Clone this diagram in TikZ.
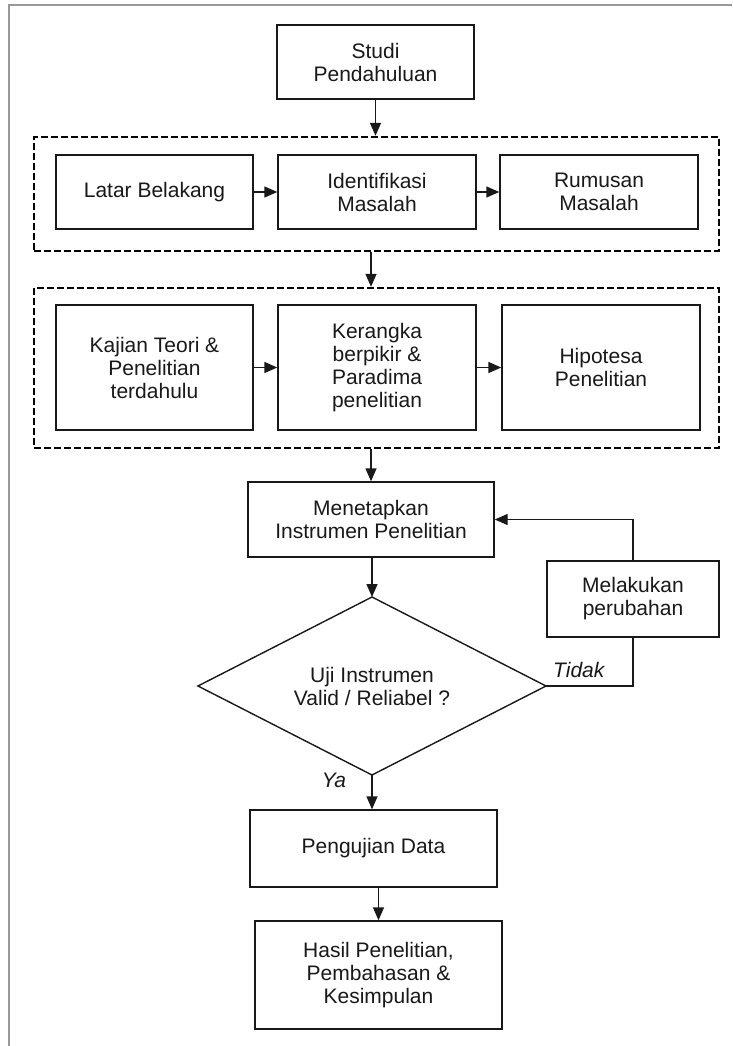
\documentclass[tikz,border=0pt]{standalone}
\usepackage{fontspec}
\setmainfont{Liberation Sans}
\usetikzlibrary{arrows.meta}
\begin{document}
\begin{tikzpicture}[x=1pt,y=-1pt,
  box/.style={draw=black!90, line width=1.4pt, align=center, inner sep=0pt,
    font=\fontsize{21}{23}\selectfont, text=black!90},
  group/.style={draw=black, line width=2.4pt, dash pattern=on 7pt off 3pt, inner sep=0pt},
  arr/.style={draw=black!90, line width=1.4pt, -{Triangle[length=13pt,width=11pt]}},
  conn/.style={draw=black!90, line width=1.4pt},
  lbl/.style={font=\fontsize{21}{23}\selectfont\itshape, text=black!90, inner sep=0pt}]
\useasboundingbox (0,0) rectangle (732,1046);
\fill[white] (0,0) rectangle (732,1046);
\draw[gray!80, line width=1.6pt] (9,1046) -- (9,5) -- (732,5);

\node[box, minimum width=197pt, minimum height=74pt] (studi) at (375.5,62) {Studi\\Pendahuluan};

\node[group, minimum width=685pt, minimum height=114pt] (g1) at (376.5,194) {};
\node[box, minimum width=197pt, minimum height=74pt] (latar) at (154.5,192) {Latar Belakang};
\node[box, minimum width=198pt, minimum height=74pt] (ident) at (377,192) {Identifikasi\\Masalah};
\node[box, minimum width=198pt, minimum height=74pt] (rumus) at (599,192) {Rumusan\\Masalah};

\node[group, minimum width=685pt, minimum height=160pt] (g2) at (376.5,368) {};
\node[box, minimum width=197pt, minimum height=125pt] (kajian) at (154.5,367.5) {Kajian Teori \&\\Penelitian\\terdahulu};
\node[box, minimum width=198pt, minimum height=125pt] (kerangka) at (377,367.5) {Kerangka\\berpikir \&\\Paradima\\penelitian};
\node[box, minimum width=198pt, minimum height=125pt] (hipo) at (601,367.5) {Hipotesa\\Penelitian};

\node[box, minimum width=246pt, minimum height=75pt] (menet) at (371,519.5) {Menetapkan\\Instrumen Penelitian};
\node[box, minimum width=172pt, minimum height=76pt] (melak) at (633,599) {Melakukan\\perubahan};

\coordinate (dt) at (372,597);
\coordinate (dr) at (546,686);
\coordinate (db) at (372,775);
\coordinate (dl) at (198,686);
\draw[conn] (dt) -- (dr) -- (db) -- (dl) -- cycle;
\node[box, draw=none] (uji) at (372,686) {Uji Instrumen\\Valid / Reliabel ?};

\node[box, minimum width=247pt, minimum height=77pt] (peng) at (373.5,848.5) {Pengujian Data};
\node[box, minimum width=247pt, minimum height=108pt] (hasil) at (378.5,975) {Hasil Penelitian,\\Pembahasan \&\\Kesimpulan};

\draw[arr] (studi.south) -- (studi.south |- g1.north);
\draw[arr] (latar.east) -- (ident.west);
\draw[arr] (ident.east) -- (rumus.west);
\draw[arr] (menet.north |- g1.south) -- (menet.north |- g2.north);
\draw[arr] (kajian.east) -- (kerangka.west);
\draw[arr] (kerangka.east) -- (hipo.west);
\draw[arr] (menet.north |- g2.south) -- (menet.north);
\draw[arr] (menet.south -| dt) -- (dt);
\draw[arr] (melak.north) |- (menet.east);
\draw[conn] (dr) -| (melak.south);
\draw[arr] (db) -- (db |- peng.north);
\draw[arr] (peng.south -| hasil.north) -- (hasil.north);

\node[lbl, anchor=south west] (tidak) at (553,678) {Tidak};
\node[lbl, anchor=south] (ya) at (334,788) {Ya};
\end{tikzpicture}
\end{document}
